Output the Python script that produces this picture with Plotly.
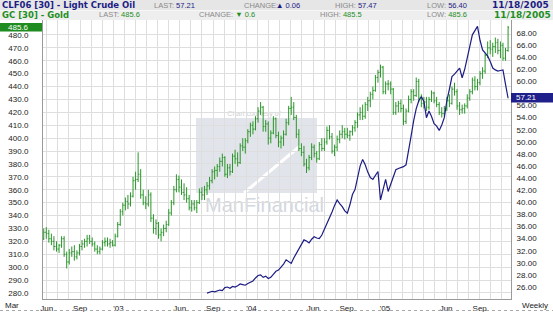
import plotly.graph_objects as go
import pandas as pd

W, H = 553, 312
PL, PR, PT, PB = 43, 511, 20, 299
FONT = "Liberation Sans, Arial, sans-serif"
DV = "DejaVu Sans, Verdana, sans-serif"
NAVY = "#1c1c84"
GREEN = "#1f8f1f"
BAR_GREEN = "#2a962a"
GREY = "#8a8a8a"

# ---------------- data ----------------
gold_start = "2002-05-24"   # weekly bars (Fridays)
gold_open = [
    322,327,326,322,320,316,314,317,322,310,
    304,311,312,308,311,316,318,320,322,320,
    318,314,312,314,319,320,318,319,317,324,
    333,343,348,351,349,355,367,368,372,356,
    350,349,356,338,330,334,325,327,330,333,
    342,350,360,368,362,358,356,353,346,349,
    346,350,358,356,360,363,367,374,375,378,
    382,385,372,377,374,386,384,381,394,393,
    398,405,410,407,415,421,424,409,411,400,
    404,415,402,397,400,403,412,423,424,416,
    403,392,389,380,377,385,393,388,384,395,
    392,397,406,401,390,393,399,403,405,403,
    402,405,408,412,418,420,417,426,429,434,
    437,447,451,455,436,442,442,438,420,425,
    427,423,413,421,430,436,433,444,431,427,
    428,424,430,435,429,426,420,419,423,429,
    427,438,436,425,422,423,425,431,436,445,
    440,443,450,452,464,470,469,471,474,468,
    472,462,468]
gold_high = [
    330,331,329,326,324,320,318,324,324,312,
    314,316,317,313,318,321,322,325,325,323,
    320,317,316,321,323,323,322,321,326,335,
    345,350,354,356,358,370,374,389,376,360,
    355,360,358,341,337,335,330,333,336,345,
    352,363,372,371,368,365,362,356,352,352,
    352,361,362,363,366,370,376,378,380,385,
    388,386,380,380,388,391,389,396,400,400,
    407,412,413,417,424,428,425,414,413,406,
    417,416,405,402,406,415,425,432,428,418,
    407,396,394,384,387,396,395,390,397,400,
    400,409,410,404,395,402,406,410,408,408,
    406,410,414,420,424,426,428,432,436,440,
    449,453,457,456,444,445,444,439,428,429,
    430,426,423,433,438,438,447,446,434,432,
    432,432,437,436,432,428,424,425,432,434,
    440,443,438,428,426,427,434,438,447,448,
    446,452,455,466,475,476,474,478,477,475,
    474,470,487]
gold_low = [
    321,322,319,317,313,312,311,315,308,299,
    302,308,305,306,309,313,315,316,318,316,
    312,310,310,313,316,316,315,316,316,323,
    332,340,344,345,347,354,360,366,353,348,
    345,347,335,326,325,322,320,324,327,332,
    340,348,358,358,356,352,350,344,343,344,
    342,349,352,352,356,360,365,368,370,374,
    378,370,369,371,373,380,378,380,390,388,
    396,401,403,406,412,418,405,405,395,396,
    403,400,393,392,394,402,410,418,414,400,
    390,386,378,373,375,383,385,381,383,390,
    390,395,399,388,386,390,396,400,399,400,
    398,402,405,408,414,414,415,421,424,430,
    436,443,447,434,434,437,434,418,418,420,
    420,410,411,420,427,429,432,428,424,423,
    421,422,428,427,424,418,416,417,421,424,
    426,433,422,418,419,419,423,429,434,437,
    437,441,446,450,462,465,463,466,465,462,
    460,460,467]
gold_close = [
    327,326,322,320,316,314,317,322,310,304,
    311,312,308,311,316,318,320,322,320,318,
    314,312,314,319,320,318,319,317,324,333,
    343,348,351,349,355,367,368,372,356,350,
    349,356,338,330,334,325,327,330,333,342,
    350,360,368,362,358,356,353,346,349,346,
    350,358,356,360,363,367,374,375,378,382,
    385,372,377,374,386,384,381,394,393,398,
    405,410,407,415,421,424,409,411,400,404,
    415,402,397,400,403,412,423,424,416,403,
    392,389,380,377,385,393,388,384,395,392,
    397,406,401,390,393,399,403,405,403,402,
    405,408,412,418,420,417,426,429,434,437,
    447,451,455,436,442,442,438,420,425,427,
    423,413,421,430,436,433,444,431,427,428,
    424,430,435,429,426,420,419,423,429,427,
    438,436,425,422,423,425,431,436,445,440,
    443,450,452,464,470,469,471,474,468,472,
    462,468,485.6]

crude_start = "2003-08-15"
crude_close = [
    25.0,25.1,25.3,25.2,25.4,25.5,25.4,25.9,26.0,25.8,
    26.1,26.0,26.2,26.5,26.4,26.3,26.6,26.8,27.0,27.5,
    27.9,28.0,27.6,27.8,27.4,27.6,28.2,28.6,28.8,29.3,
    29.8,30.5,30.2,29.9,30.8,31.6,32.4,33.0,33.8,33.6,
    33.3,33.9,34.3,34.1,34.0,34.6,35.5,36.5,37.3,38.4,
    39.5,40.4,39.8,39.3,38.6,38.2,39.6,41.3,42.1,44.2,
    46.0,47.1,46.2,45.0,44.1,43.8,44.5,45.1,40.4,42.0,
    43.8,41.8,42.9,44.0,45.4,45.6,45.7,45.9,46.2,48.4,
    51.0,53.5,55.5,56.8,57.5,56.7,54.0,55.1,54.2,53.0,
    52.6,51.9,52.8,54.0,56.8,58.7,60.8,61.2,61.7,62.2,
    60.6,62.0,63.9,65.6,67.7,68.4,69.1,66.8,65.2,64.7,
    64.2,63.3,62.2,61.9,61.7,61.8,61.9,59.5,57.21]

gold_ticks = list(range(280, 481, 10))
crude_ticks = [v for v in range(26, 69, 2) if v != 58]   # 58.00 sits under the last-value box
x_tick_dates = ["2002-06-01", "2002-09-01", "2002-12-15", "2003-06-01", "2003-09-01",
                "2003-12-15", "2004-06-01", "2004-09-01", "2004-12-15", "2005-06-01",
                "2005-09-01"]
x_tick_text = ["Jun", "Sep", "'03", "Jun", "Sep", "'04", "Jun", "Sep", "'05", "Jun", "Sep"]

gold_dates = pd.date_range(gold_start, periods=len(gold_close), freq="7D")
crude_dates = pd.date_range(crude_start, periods=len(crude_close), freq="7D")

# ---------------- helpers ----------------
def xp(px):
    return (px - PL) / (PR - PL)

def yp(py):
    return (PB - py) / (PB - PT)

def ann(px, py, text, size, color, bold=False, anchor="left", family=FONT):
    return dict(x=xp(px), y=yp(py), xref="paper", yref="paper", text=text,
                showarrow=False, xanchor=anchor, yanchor="middle", borderpad=0,
                font=dict(size=size, color=color, family=family,
                          weight="bold" if bold else "normal"))

def rect(x0, y0, x1, y1, fill, layer="above"):
    return dict(type="rect", xref="paper", yref="paper",
                x0=xp(x0), x1=xp(x1), y0=yp(y0), y1=yp(y1),
                fillcolor=fill, line=dict(width=0), layer=layer)

# ---------------- figure ----------------
fig = go.Figure()
fig.add_trace(go.Ohlc(
    x=gold_dates, open=gold_open, high=gold_high, low=gold_low, close=gold_close,
    increasing=dict(line=dict(color=BAR_GREEN, width=1)),
    decreasing=dict(line=dict(color=BAR_GREEN, width=1)),
    tickwidth=0.4, name="Gold", hoverinfo="skip"))
fig.add_trace(go.Scatter(
    x=crude_dates, y=crude_close, yaxis="y2", mode="lines",
    line=dict(color=NAVY, width=1.2), name="Crude", hoverinfo="skip"))

shapes = [
    # header bands
    rect(0, 0, 553, 10, "#e6e6e6"),
    rect(0, 10.5, 553, 20, "#eeeeee"),
    # watermark logo
    rect(196, 118, 317, 193, "#e1e4ea", layer="between"),
    dict(type="line", xref="paper", yref="paper", x0=xp(244), x1=xp(300),
         y0=yp(193), y1=yp(146), line=dict(color="white", width=3), layer="between"),
    dict(type="rect", xref="paper", yref="paper", x0=xp(199), x1=xp(323),
         y0=yp(212), y1=yp(193), fillcolor="rgba(0,0,0,0)", line=dict(width=0),
         layer="between",
         label=dict(text="ManFinancial", textposition="middle left",
                    font=dict(size=20, color="#d3d7de", family=FONT))),
    dict(type="rect", xref="paper", yref="paper", x0=xp(206), x1=xp(302),
         y0=yp(117), y1=yp(108), fillcolor="rgba(0,0,0,0)", line=dict(width=0),
         layer="between",
         label=dict(text="Chart courtesy of", textposition="middle center",
                    font=dict(size=7, color="#cfcfcf", family=FONT))),
    # last value boxes
    rect(0, 23, 42, 31.5, "#1e8c1e"),
    rect(511, 93, 553, 102.5, "#20208a"),
    # bottom dotted rule
    dict(type="line", xref="paper", yref="paper", x0=xp(0), x1=xp(553),
         y0=yp(310.5), y1=yp(310.5), line=dict(color="#a8a8a8", width=1, dash="dot"),
         layer="above"),
]

annotations = [
    ann(1, 5, "CLF06 [30] - Light Crude Oil", 8.5, NAVY, bold=True, family=DV),
    ann(153, 5, "LAST: <span style='color:%s'>57.21</span>" % NAVY, 7.5, GREY),
    ann(243, 5, "CHANGE:", 7.5, GREY),
    ann(275, 5, "▲ 0.06", 7.5, NAVY),
    ann(334, 5, "HIGH: <span style='color:%s'>57.47</span>" % NAVY, 7.5, GREY),
    ann(426, 5, "LOW: <span style='color:%s'>56.40</span>" % NAVY, 7.5, GREY),
    ann(491, 5, "11/18/2005", 9, NAVY, bold=True, family=DV),
    ann(1, 15.2, "GC [30] - Gold", 8.5, GREEN, bold=True, family=DV),
    ann(98, 15, "LAST: <span style='color:%s'>485.6</span>" % GREEN, 7.5, GREY),
    ann(198, 15, "CHANGE: <span style='color:%s'>▼ 0.6</span>" % GREEN, 7.5, GREY),
    ann(319, 15, "HIGH: <span style='color:%s'>485.5</span>" % GREEN, 7.5, GREY),
    ann(426, 15, "LOW: <span style='color:%s'>485.6</span>" % GREEN, 7.5, GREY),
    ann(493, 15.2, "11/18/2005", 9, GREEN, bold=True, family=DV),
    ann(7, 27.3, "485.6", 8, "white"),
    ann(515, 97.8, "57.21", 8, "white"),
    ann(12, 305, "Mar", 8, "#222", anchor="center"),
    ann(535, 305, "Weekly", 8, "#222", anchor="center"),
]

grid_col = "#dedede"
fig.update_layout(
    width=W, height=H,
    margin=dict(l=PL, r=W - PR, t=PT, b=H - PB, pad=0, autoexpand=False),
    paper_bgcolor="white", plot_bgcolor="white",
    showlegend=False,
    font=dict(family=FONT, size=8, color="#222"),
    xaxis=dict(
        type="date", range=["2002-05-22", "2005-11-26"],
        tickvals=x_tick_dates, ticktext=x_tick_text,
        tickfont=dict(size=8, color="#222"),
        showgrid=False,
        minor=dict(dtick="M1", tick0="2002-05-01", showgrid=True,
                   gridcolor=grid_col, gridwidth=1, ticks=""),
        showline=True, linecolor="#9a9a9a", linewidth=1,
        ticks="", ticklabelstandoff=1, automargin=False,
        rangeslider=dict(visible=False), zeroline=False, fixedrange=True),
    yaxis=dict(
        range=[275.3, 491.6], tickvals=gold_ticks, tickformat=".1f",
        tickfont=dict(size=8, color="#222"),
        showgrid=True, gridcolor=grid_col, gridwidth=1,
        showline=True, linecolor="#9a9a9a", linewidth=1, automargin=False,
        ticks="", ticklabelstandoff=12, zeroline=False),
    yaxis2=dict(
        range=[24.02, 70.15], tickvals=crude_ticks, tickformat=".2f",
        tickfont=dict(size=8, color="#222"),
        overlaying="y", side="right", showgrid=False, automargin=False,
        showline=True, linecolor="#9a9a9a", linewidth=1,
        ticks="", ticklabelstandoff=3, zeroline=False),
    shapes=shapes,
    annotations=annotations,
)

fig.write_html("out.html")
